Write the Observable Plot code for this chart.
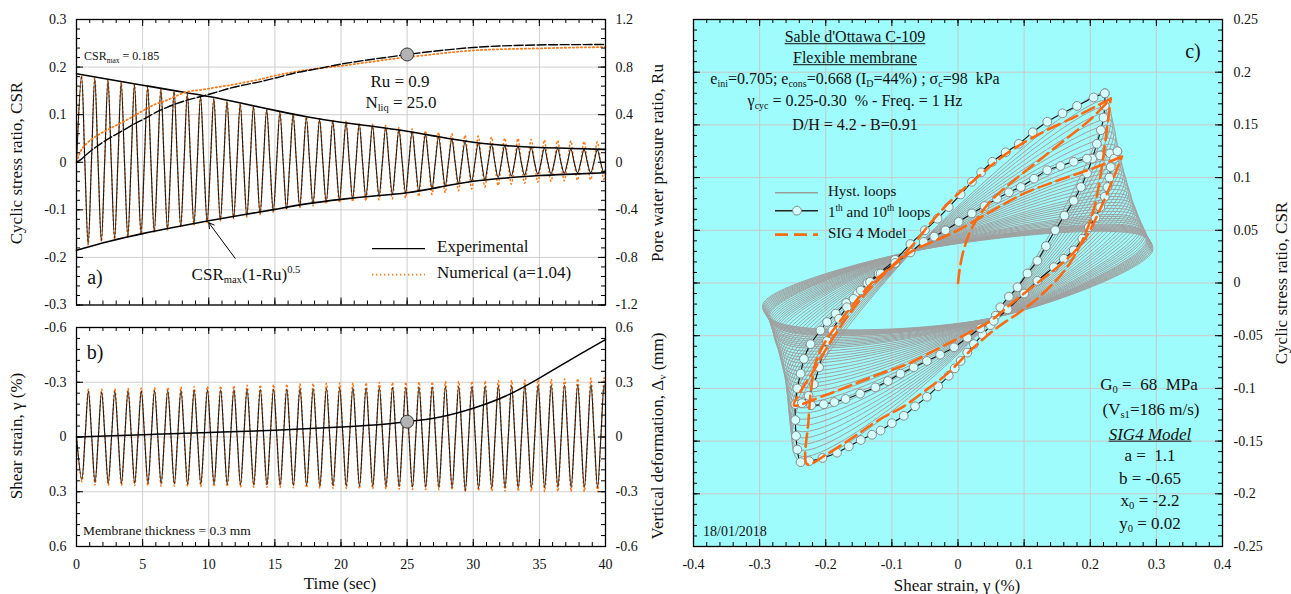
<!DOCTYPE html>
<html><head><meta charset="utf-8">
<script src="https://cdn.jsdelivr.net/npm/d3@7"></script>
<script src="https://cdn.jsdelivr.net/npm/@observablehq/plot@0.6"></script>
<style>
body{margin:0;background:#fff;}
#wrap{position:relative;width:1291px;height:594px;overflow:hidden;font-family:"Liberation Serif","Times New Roman",serif;color:#111;}
#wrap svg{position:absolute;}
sub{font-size:62%;vertical-align:-0.3em;line-height:0}
sup{font-size:62%;vertical-align:0.6em;line-height:0}
</style></head><body><div id="wrap"></div>
<script>
// ================= DATA =================
// ---- Panel a : cyclic stress ratio vs time (1 Hz loading, 40 cycles) ----
const csrPhase = {pos: 0.38, zeroDown: 0.63, neg: 0.88, zeroUp: 1.13};
const csrExpPos = [0.180,0.176,0.172,0.167,0.163,0.158,0.153,0.148,0.143,0.138,0.133,0.127,0.122,0.116,0.110,0.104,0.099,0.093,0.089,0.086,0.083,0.080,0.076,0.072,0.068,0.064,0.058,0.053,0.048,0.043,0.040,0.037,0.035,0.033,0.031,0.030,0.029,0.028,0.027,0.026];
const csrExpNeg = [-0.172,-0.165,-0.160,-0.155,-0.150,-0.145,-0.140,-0.135,-0.130,-0.125,-0.121,-0.117,-0.113,-0.108,-0.103,-0.098,-0.093,-0.088,-0.083,-0.079,-0.076,-0.073,-0.070,-0.067,-0.064,-0.060,-0.055,-0.050,-0.045,-0.040,-0.036,-0.032,-0.029,-0.027,-0.025,-0.024,-0.023,-0.022,-0.022,-0.021];
const csrNumPos = [0.182,0.177,0.173,0.168,0.164,0.159,0.154,0.149,0.144,0.139,0.134,0.128,0.123,0.117,0.111,0.106,0.101,0.096,0.092,0.089,0.086,0.083,0.080,0.077,0.073,0.070,0.066,0.063,0.060,0.057,0.055,0.053,0.051,0.050,0.048,0.047,0.046,0.045,0.044,0.043];
const csrNumNeg = [-0.174,-0.167,-0.162,-0.157,-0.152,-0.147,-0.142,-0.137,-0.132,-0.127,-0.123,-0.119,-0.115,-0.110,-0.105,-0.100,-0.096,-0.092,-0.088,-0.085,-0.083,-0.081,-0.079,-0.077,-0.075,-0.072,-0.068,-0.064,-0.060,-0.056,-0.052,-0.049,-0.046,-0.044,-0.042,-0.040,-0.039,-0.038,-0.037,-0.036];
const envT     = [0,2.5,5,7.5,10,12.5,15,17.5,20,22.5,25,27.5,30,32.5,35,37.5,40];
const envUpper = [0.186,0.174,0.162,0.150,0.138,0.124,0.109,0.095,0.084,0.075,0.065,0.053,0.042,0.035,0.031,0.029,0.027];
const envLower = [-0.185,-0.166,-0.150,-0.136,-0.123,-0.111,-0.099,-0.087,-0.078,-0.071,-0.064,-0.052,-0.040,-0.033,-0.028,-0.025,-0.022];
const ruT   = [0,0.3,0.8,1.5,2.3,3,3.8,4.5,5.3,6,6.8,7.5,8.3,9.5,10.6,11.7,12.9,14,15.1,16.5,18.4,20,22,24,25,26,28,30,32,34,36,38,40];
const ruExp = [0.0,0.02,0.07,0.13,0.19,0.235,0.285,0.33,0.375,0.42,0.46,0.49,0.52,0.555,0.59,0.625,0.655,0.68,0.71,0.75,0.79,0.825,0.86,0.89,0.906,0.92,0.945,0.965,0.977,0.984,0.988,0.989,0.99];
const ruNum = [0.0,0.09,0.16,0.22,0.27,0.31,0.355,0.40,0.45,0.49,0.52,0.555,0.59,0.61,0.63,0.65,0.675,0.70,0.73,0.76,0.79,0.81,0.84,0.87,0.885,0.895,0.92,0.94,0.95,0.955,0.96,0.965,0.968];
const ruPerCsr = 4;                       // right axis: 1.2 Ru  <->  0.3 CSR
const liqMarker = [{t: 25, ru: 0.906}];
const arrowAnnot = [{t1: 12.0, v1: -0.202, t2: 10.0, v2: -0.127}];

// ---- Panel b : shear strain and vertical deformation vs time ----
const strPhase = {pos: 0.40, zeroDown: 0.65, neg: 0.90, zeroUp: 1.15};
const strExpPos = [0.232,0.250,0.252,0.253,0.254,0.255,0.256,0.257,0.258,0.258,0.259,0.260,0.261,0.262,0.263,0.264,0.265,0.266,0.267,0.268,0.269,0.270,0.271,0.272,0.273,0.274,0.275,0.276,0.278,0.295,0.282,0.280,0.279,0.279,0.278,0.278,0.277,0.277,0.276,0.276];
const strExpNeg = [-0.250,-0.248,-0.250,-0.252,-0.253,-0.254,-0.255,-0.256,-0.257,-0.258,-0.259,-0.260,-0.261,-0.262,-0.263,-0.264,-0.265,-0.266,-0.267,-0.268,-0.269,-0.270,-0.271,-0.272,-0.273,-0.274,-0.275,-0.276,-0.277,-0.278,-0.279,-0.280,-0.281,-0.282,-0.283,-0.284,-0.285,-0.286,-0.287,-0.288];
const strNumPos = [0.245,0.262,0.264,0.265,0.266,0.267,0.268,0.269,0.270,0.271,0.272,0.273,0.274,0.275,0.276,0.277,0.278,0.279,0.280,0.281,0.282,0.283,0.284,0.285,0.286,0.287,0.288,0.289,0.290,0.300,0.295,0.296,0.297,0.298,0.298,0.299,0.299,0.300,0.300,0.300];
const strNumNeg = [-0.262,-0.262,-0.264,-0.266,-0.268,-0.270,-0.272,-0.274,-0.276,-0.278,-0.280,-0.282,-0.284,-0.286,-0.288,-0.290,-0.292,-0.294,-0.295,-0.296,-0.297,-0.298,-0.299,-0.300,-0.301,-0.302,-0.303,-0.304,-0.305,-0.306,-0.307,-0.308,-0.310,-0.312,-0.314,-0.316,-0.318,-0.320,-0.322,-0.325];
const dvT = [0,5,10,15,20,22.5,25,27.5,30,32.5,35,37.5,40];
const dvMm = [0,0.012,0.025,0.037,0.055,0.066,0.084,0.11,0.158,0.226,0.323,0.43,0.534];
const dvMarker = [{t: 25, dv: 0.084}];

// ---- Panel c : hysteresis loops (shear strain %, CSR), one entry per cycle ----
// right end of each loop: top (max CSR) and rightmost (max strain) points
const rTopG = [0.221,0.223,0.225,0.227,0.229,0.231,0.232,0.234,0.236,0.238,0.239,0.241,0.243,0.245,0.246,0.248,0.250,0.252,0.253,0.255,0.257,0.259,0.260,0.262,0.264,0.266,0.267,0.269,0.270,0.272,0.273,0.274,0.275,0.276,0.277,0.278,0.279,0.280,0.281,0.282];
const rTopC = [0.180,0.173,0.167,0.161,0.155,0.149,0.143,0.137,0.131,0.126,0.121,0.116,0.111,0.107,0.103,0.099,0.095,0.091,0.087,0.083,0.080,0.077,0.074,0.071,0.068,0.065,0.062,0.060,0.058,0.056,0.054,0.052,0.051,0.050,0.049,0.048,0.047,0.046,0.045,0.044];
const rMaxG = [0.225,0.228,0.231,0.233,0.235,0.237,0.239,0.241,0.243,0.245,0.247,0.249,0.251,0.253,0.255,0.257,0.259,0.261,0.263,0.265,0.267,0.269,0.271,0.273,0.275,0.277,0.279,0.281,0.282,0.284,0.285,0.286,0.287,0.288,0.289,0.290,0.291,0.292,0.293,0.294];
const rMaxC = [0.165,0.157,0.150,0.144,0.138,0.131,0.125,0.119,0.113,0.108,0.103,0.098,0.093,0.089,0.085,0.081,0.077,0.073,0.069,0.066,0.063,0.060,0.057,0.054,0.051,0.049,0.047,0.045,0.043,0.041,0.039,0.038,0.037,0.036,0.035,0.034,0.033,0.032,0.031,0.030];
// left end of each loop: leftmost (min strain) and bottom (min CSR) points
const lMinG = [-0.246,-0.247,-0.248,-0.249,-0.250,-0.251,-0.252,-0.253,-0.254,-0.255,-0.256,-0.257,-0.259,-0.261,-0.263,-0.265,-0.267,-0.269,-0.271,-0.273,-0.275,-0.277,-0.278,-0.279,-0.280,-0.281,-0.282,-0.283,-0.284,-0.285,-0.286,-0.287,-0.288,-0.289,-0.290,-0.291,-0.292,-0.293,-0.294,-0.295];
const lMinC = [-0.125,-0.120,-0.115,-0.110,-0.105,-0.100,-0.096,-0.092,-0.088,-0.084,-0.080,-0.076,-0.072,-0.068,-0.065,-0.062,-0.059,-0.056,-0.053,-0.050,-0.048,-0.046,-0.044,-0.042,-0.040,-0.038,-0.036,-0.034,-0.032,-0.030,-0.029,-0.028,-0.027,-0.026,-0.025,-0.024,-0.023,-0.022,-0.021,-0.020];
const lBotG = [-0.238,-0.239,-0.240,-0.241,-0.242,-0.243,-0.244,-0.245,-0.246,-0.247,-0.248,-0.249,-0.250,-0.251,-0.252,-0.253,-0.254,-0.255,-0.256,-0.257,-0.258,-0.259,-0.260,-0.261,-0.262,-0.263,-0.264,-0.265,-0.266,-0.267,-0.268,-0.269,-0.270,-0.271,-0.272,-0.273,-0.274,-0.275,-0.276,-0.278];
const lBotC = [-0.170,-0.164,-0.158,-0.152,-0.146,-0.140,-0.134,-0.128,-0.122,-0.117,-0.112,-0.107,-0.102,-0.097,-0.093,-0.089,-0.085,-0.081,-0.077,-0.073,-0.070,-0.067,-0.064,-0.061,-0.058,-0.056,-0.054,-0.052,-0.050,-0.048,-0.046,-0.044,-0.043,-0.042,-0.041,-0.040,-0.039,-0.038,-0.037,-0.036];
const convUpper = {g: -0.069, csr: 0.030};   // where the unloading branches converge
const convLower = {g: 0.053, csr: -0.033};   // where the reloading branches converge

const loop1Pts = [[0.222,0.180],[0.205,0.176],[0.180,0.168],[0.158,0.161],[0.135,0.153],[0.113,0.143],[0.092,0.132],[0.072,0.124],[0.052,0.115],[0.035,0.105],[0.021,0.096],[0.004,0.084],[-0.014,0.072],[-0.031,0.061],[-0.050,0.050],[-0.072,0.037],[-0.095,0.022],[-0.120,0.009],[-0.137,0.000],[-0.152,-0.010],[-0.169,-0.019],[-0.185,-0.029],[-0.198,-0.037],[-0.208,-0.045],[-0.223,-0.058],[-0.233,-0.072],[-0.238,-0.086],[-0.243,-0.100],[-0.246,-0.115],[-0.246,-0.130],[-0.245,-0.145],[-0.243,-0.158],[-0.238,-0.170],
  [-0.225,-0.169],[-0.205,-0.166],[-0.183,-0.161],[-0.165,-0.155],[-0.147,-0.149],[-0.130,-0.144],[-0.117,-0.140],[-0.100,-0.133],[-0.082,-0.126],[-0.065,-0.117],[-0.047,-0.108],[-0.030,-0.098],[-0.014,-0.088],[-0.005,-0.081],[0.004,-0.074],[0.014,-0.066],[0.024,-0.058],[0.037,-0.049],[0.049,-0.040],[0.057,-0.031],[0.064,-0.023],[0.077,-0.013],[0.090,-0.004],[0.105,0.009],[0.120,0.021],[0.133,0.035],[0.147,0.050],[0.161,0.064],[0.175,0.078],[0.186,0.091],[0.195,0.104],[0.203,0.118],[0.210,0.132],[0.216,0.145],[0.220,0.157],[0.222,0.168],[0.222,0.180]];
const loop10Pts = [[0.241,0.125],[0.230,0.123],[0.215,0.121],[0.195,0.118],[0.175,0.115],[0.155,0.111],[0.135,0.107],[0.115,0.099],[0.095,0.091],[0.077,0.086],[0.059,0.080],[0.040,0.073],[0.021,0.066],[0.001,0.058],[-0.019,0.050],[-0.036,0.044],[-0.052,0.039],[-0.072,0.029],[-0.095,0.019],[-0.117,0.009],[-0.133,0.001],[-0.147,-0.007],[-0.158,-0.015],[-0.168,-0.023],[-0.180,-0.034],[-0.190,-0.045],[-0.198,-0.055],[-0.203,-0.064],[-0.210,-0.080],[-0.218,-0.096],[-0.226,-0.107],[-0.236,-0.114],
  [-0.222,-0.116],[-0.203,-0.115],[-0.187,-0.113],[-0.170,-0.110],[-0.148,-0.105],[-0.125,-0.099],[-0.106,-0.093],[-0.087,-0.086],[-0.067,-0.080],[-0.047,-0.074],[-0.027,-0.068],[-0.006,-0.061],[0.014,-0.052],[0.034,-0.043],[0.054,-0.036],[0.075,-0.025],[0.100,-0.010],[0.120,0.002],[0.145,0.015],[0.160,0.023],[0.175,0.031],[0.188,0.042],[0.198,0.053],[0.208,0.062],[0.215,0.072],[0.222,0.082],[0.226,0.091],[0.229,0.100],[0.231,0.110],[0.236,0.118],[0.241,0.125]];

const sig4Initial = [[0,0],[0.003,0.015],[0.008,0.030],[0.016,0.045],[0.030,0.062],[0.050,0.078],[0.080,0.095],[0.120,0.115],[0.160,0.135],[0.200,0.155],[0.231,0.175]];
const sig4LoopA = [[0.231,0.175],[0.185,0.160],[0.125,0.142],[0.074,0.123],[0.029,0.100],[-0.011,0.078],[-0.040,0.058],[-0.070,0.035],[-0.100,0.016],[-0.132,-0.001],[-0.173,-0.032],[-0.200,-0.055],[-0.215,-0.075],[-0.222,-0.100],[-0.226,-0.130],[-0.228,-0.172],
  [-0.200,-0.163],[-0.160,-0.147],[-0.120,-0.130],[-0.082,-0.117],[-0.045,-0.100],[-0.016,-0.086],[0.024,-0.061],[0.060,-0.042],[0.095,-0.027],[0.125,-0.012],[0.165,0.015],[0.190,0.043],[0.205,0.069],[0.215,0.100],[0.223,0.135],[0.231,0.175]];
const sig4LoopB = [[0.248,0.120],[0.205,0.109],[0.150,0.097],[0.100,0.085],[0.050,0.068],[0.000,0.050],[-0.035,0.040],[-0.070,0.030],[-0.100,0.015],[-0.130,-0.003],[-0.165,-0.030],[-0.195,-0.058],[-0.220,-0.085],[-0.240,-0.105],[-0.248,-0.116],
  [-0.203,-0.107],[-0.158,-0.096],[-0.117,-0.086],[-0.077,-0.077],[-0.026,-0.061],[0.014,-0.048],[0.049,-0.036],[0.080,-0.020],[0.120,0.000],[0.160,0.020],[0.190,0.040],[0.215,0.070],[0.232,0.095],[0.248,0.120]];

// ================= HELPERS =================
const ORANGE_DOT = "#ff7a1a", ORANGE_MODEL = "#ff6a10", CYAN = "#9ffcfc", GRID = "#cfcfcf";
const fmt = v => { const r = Math.round(v * 1000) / 1000; return r === 0 ? "0" : String(r); };
const range = (a, b, s) => { const n = Math.round((b - a) / s), o = []; for (let i = 0; i <= n; i++) o.push(a + i * s); return o; };
const baseStyle = {fontFamily: '"Liberation Serif","Times New Roman",serif', fontSize: "14px", background: "transparent", color: "#111", overflow: "visible"};

function oscillation(pos, neg, ph) {
  const pts = [{t: 0, v: 0}];
  pos.forEach((p, k) => {
    pts.push({t: k + ph.pos, v: p});
    pts.push({t: k + ph.zeroDown, v: 0});
    pts.push({t: k + ph.neg, v: neg[k]});
    pts.push({t: k + ph.zeroUp, v: 0});
  });
  return pts;
}
function edgeTicks({xMajor, xMinor, yMajor, yMinor, fw, fh}) {
  const M = 7, m = 4, st = {stroke: "#000", strokeWidth: 1};
  const out = [];
  for (const [vals, len] of [[xMajor, M], [xMinor, m]]) {
    out.push(Plot.tickX(vals, {x: d => d, insetTop: fh - len, ...st}));
    out.push(Plot.tickX(vals, {x: d => d, insetBottom: fh - len, ...st}));
  }
  for (const [vals, len] of [[yMajor, M], [yMinor, m]]) {
    out.push(Plot.tickY(vals, {y: d => d, insetRight: fw - len, ...st}));
    out.push(Plot.tickY(vals, {y: d => d, insetLeft: fw - len, ...st}));
  }
  return out;
}
const wrap = document.getElementById("wrap");
function place(svg, left, top) { svg.style.left = left + "px"; svg.style.top = top + "px"; wrap.appendChild(svg); }
function put(html, x, y, {size = 17, anchor = "middle", rotate = false, extra = ""} = {}) {
  const d = document.createElement("div");
  d.innerHTML = html;
  const tx = anchor === "middle" ? "-50%" : anchor === "end" ? "-100%" : "0";
  d.style.cssText = `position:absolute;left:${x}px;top:${y}px;font-size:${size}px;white-space:pre;line-height:1.1;transform:translate(${tx},-50%)${rotate ? " rotate(-90deg)" : ""};${extra}`;
  wrap.appendChild(d);
}

// ================= PANEL a =================
const timeMajor = range(0, 40, 5), timeMinor = range(0, 40, 1);
const csrTicksA = range(-0.3, 0.3, 0.1);
const plotA = Plot.plot({
  width: 680, height: 310, marginLeft: 76, marginRight: 75, marginTop: 19, marginBottom: 5.5,
  x: {domain: [0, 40], axis: null}, y: {domain: [-0.3, 0.3]},
  style: baseStyle,
  marks: [
    Plot.gridX({ticks: timeMajor, stroke: GRID, strokeOpacity: 1}),
    Plot.gridY({ticks: csrTicksA, stroke: GRID, strokeOpacity: 1}),
    Plot.line(oscillation(csrNumPos, csrNumNeg, csrPhase), {x: "t", y: "v", curve: "catmull-rom", stroke: ORANGE_DOT, strokeWidth: 1.5, strokeDasharray: "1.2,3.2", clip: true}),
    Plot.line(oscillation(csrExpPos, csrExpNeg, csrPhase), {x: "t", y: "v", curve: "catmull-rom", stroke: "#1a1a1a", strokeWidth: 1.1, clip: true}),
    Plot.line(envT.map((t, i) => ({t, v: envUpper[i]})), {x: "t", y: "v", curve: "natural", stroke: "#000", strokeWidth: 1.6}),
    Plot.line(envT.map((t, i) => ({t, v: envLower[i]})), {x: "t", y: "v", curve: "natural", stroke: "#000", strokeWidth: 1.6}),
    Plot.line(ruT.map((t, i) => ({t, v: ruNum[i] / ruPerCsr})), {x: "t", y: "v", curve: "monotone-x", stroke: ORANGE_DOT, strokeWidth: 1.8, strokeDasharray: "1.3,2.7"}),
    Plot.line(ruT.map((t, i) => ({t, v: ruExp[i] / ruPerCsr})), {x: "t", y: "v", curve: "monotone-x", stroke: "#000", strokeWidth: 1.4, strokeDasharray: "9,2.5"}),
    Plot.dot(liqMarker, {x: "t", y: d => d.ru / ruPerCsr, r: 6.5, fill: "#b3b3b3", stroke: "#333", strokeWidth: 1}),
    Plot.arrow(arrowAnnot, {x1: "t1", y1: "v1", x2: "t2", y2: "v2", stroke: "#000", strokeWidth: 1, headLength: 9}),
    ...edgeTicks({xMajor: timeMajor, xMinor: timeMinor, yMajor: csrTicksA, yMinor: range(-0.3, 0.3, 0.02), fw: 529, fh: 285.5}),
    Plot.frame({stroke: "#000", strokeWidth: 1.3}),
    Plot.axisY({anchor: "left", ticks: csrTicksA, tickSize: 0, tickPadding: 10, tickFormat: fmt, label: null}),
    Plot.axisY({anchor: "right", ticks: csrTicksA, tickSize: 0, tickPadding: 10, tickFormat: v => fmt(v * ruPerCsr), label: null})
  ]
});
place(plotA, 0, 0);

// ================= PANEL b =================
const strTicks = range(-0.6, 0.6, 0.3);
const plotB = Plot.plot({
  width: 680, height: 284, marginLeft: 76, marginRight: 75, marginTop: 17, marginBottom: 48,
  x: {domain: [0, 40]}, y: {domain: [-0.6, 0.6], reverse: true},
  style: baseStyle,
  marks: [
    Plot.gridX({ticks: timeMajor, stroke: GRID, strokeOpacity: 1}),
    Plot.gridY({ticks: strTicks, stroke: GRID, strokeOpacity: 1}),
    Plot.line(oscillation(strNumPos, strNumNeg, strPhase), {x: "t", y: "v", curve: "catmull-rom", stroke: ORANGE_DOT, strokeWidth: 1.5, strokeDasharray: "1.2,3.2", clip: true}),
    Plot.line(oscillation(strExpPos, strExpNeg, strPhase), {x: "t", y: "v", curve: "catmull-rom", stroke: "#1a1a1a", strokeWidth: 1.1, clip: true}),
    Plot.line(dvT.map((t, i) => ({t, v: -dvMm[i]})), {x: "t", y: "v", curve: "natural", stroke: "#000", strokeWidth: 1.5}),
    Plot.dot(dvMarker, {x: "t", y: d => -d.dv, r: 6.5, fill: "#b3b3b3", stroke: "#333", strokeWidth: 1}),
    ...edgeTicks({xMajor: timeMajor, xMinor: timeMinor, yMajor: strTicks, yMinor: range(-0.6, 0.6, 0.06), fw: 529, fh: 219}),
    Plot.frame({stroke: "#000", strokeWidth: 1.3}),
    Plot.axisY({anchor: "left", ticks: strTicks, tickSize: 0, tickPadding: 10, tickFormat: fmt, label: null}),
    Plot.axisY({anchor: "right", ticks: strTicks, tickSize: 0, tickPadding: 10, tickFormat: v => fmt(-v), label: null}),
    Plot.axisX({ticks: timeMajor, tickSize: 0, tickPadding: 13, tickFormat: fmt, label: null})
  ]
});
place(plotB, 0, 310);

// ================= PANEL c =================
// each loop: reloading branch through convLower to the right end, unloading branch through convUpper to the left end
const grayLoops = rTopG.flatMap((_, i) => [
  {loop: i, g: convLower.g, c: convLower.csr},
  {loop: i, g: rMaxG[i], c: rMaxC[i]},
  {loop: i, g: rTopG[i], c: rTopC[i]},
  {loop: i, g: convUpper.g, c: convUpper.csr},
  {loop: i, g: lMinG[i], c: lMinC[i]},
  {loop: i, g: lBotG[i], c: lBotC[i]}
]);
const expLoops = [...loop1Pts.map(p => ({loop: 1, g: p[0], c: p[1]})), ...loop10Pts.map(p => ({loop: 10, g: p[0], c: p[1]}))];
const sig4 = [...sig4Initial.map(p => ({s: "init", g: p[0], c: p[1]})), ...sig4LoopA.map(p => ({s: "A", g: p[0], c: p[1]})), ...sig4LoopB.map(p => ({s: "B", g: p[0], c: p[1]}))];
const gTicks = range(-0.4, 0.4, 0.1), cTicks = range(-0.25, 0.25, 0.05);
const plotC = Plot.plot({
  width: 631, height: 594, marginLeft: 33, marginRight: 69, marginTop: 19, marginBottom: 48,
  x: {domain: [-0.4, 0.4]}, y: {domain: [-0.25, 0.25]},
  style: baseStyle,
  marks: [
    Plot.frame({fill: CYAN, stroke: null}),
    Plot.gridX({ticks: gTicks, stroke: "#c9c9c9", strokeOpacity: 1}),
    Plot.gridY({ticks: cTicks, stroke: "#c9c9c9", strokeOpacity: 1}),
    Plot.line(grayLoops, {x: "g", y: "c", z: "loop", curve: "catmull-rom-closed", stroke: "#a0a0a0", strokeWidth: 1}),
    Plot.line(expLoops, {x: "g", y: "c", z: "loop", curve: "catmull-rom", stroke: "#111", strokeWidth: 1.1}),
    Plot.dot(expLoops, {x: "g", y: "c", r: 4.4, fill: "#d4ffff", stroke: "#8a8a8a", strokeWidth: 1}),
    Plot.line(sig4, {x: "g", y: "c", z: "s", curve: "catmull-rom", stroke: ORANGE_MODEL, strokeWidth: 2.6, strokeDasharray: "13,6"}),
    ...edgeTicks({xMajor: gTicks, xMinor: range(-0.4, 0.4, 0.02), yMajor: cTicks, yMinor: range(-0.25, 0.25, 0.01), fw: 529, fh: 527}),
    Plot.frame({stroke: "#000", strokeWidth: 1.3}),
    Plot.axisY({anchor: "right", ticks: cTicks, tickSize: 0, tickPadding: 11, tickFormat: fmt, label: null}),
    Plot.axisX({ticks: gTicks, tickSize: 0, tickPadding: 13, tickFormat: fmt, label: null})
  ]
});
place(plotC, 660, 0);

// ================= TEXT / LEGENDS =================
put("Cyclic stress ratio, CSR", 17, 163, {rotate: true});
put("Pore water pressure ratio, Ru", 658, 163, {rotate: true});
put("Shear strain, γ (%)", 17, 436, {rotate: true});
put("Vertical deformation, Δ<sub>v</sub> (mm)", 658, 436, {rotate: true});
put("Time (sec)", 340, 584);
put("Cyclic stress ratio, CSR", 1282, 283, {rotate: true});
put("Shear strain, γ (%)", 957, 586);
put("CSR<sub>max</sub> = 0.185", 82, 57, {size: 12, anchor: "start", extra: "background:#fff;padding:1px 2px;"});
put("Ru = 0.9", 400, 82);
put("N<sub>liq</sub> = 25.0", 401, 103);
put("a)", 95, 277, {size: 20});
put("CSR<sub>max</sub>(1-Ru)<sup>0.5</sup>", 246, 275);
put('<svg width="54" height="6" style="position:static"><line x1="0" y1="3" x2="53" y2="3" stroke="#000" stroke-width="1.3"/></svg>', 372, 247, {anchor: "start"});
put("Experimental", 437, 247, {anchor: "start"});
put('<svg width="54" height="6" style="position:static"><line x1="0" y1="3" x2="53" y2="3" stroke="' + ORANGE_DOT + '" stroke-width="1.8" stroke-dasharray="1.3,2.7"/></svg>', 372, 273, {anchor: "start"});
put("Numerical (a=1.04)", 437, 273, {anchor: "start"});
put("b)", 95, 352, {size: 20});
put("Membrane thickness = 0.3 mm", 83, 531, {size: 13.5, anchor: "start"});
put("<u>Sable d'Ottawa C-109</u>", 855, 37, {size: 16});
put("<u>Flexible membrane</u>", 855, 58, {size: 16});
put("e<sub>ini</sub>=0.705; e<sub>cons</sub>=0.668 (I<sub>D</sub>=44%) ; σ<sub>c</sub>=98  kPa", 855, 79, {size: 16});
put("γ<sub>cyc</sub> = 0.25-0.30  % - Freq. = 1 Hz", 855, 101, {size: 16});
put("D/H = 4.2 - B=0.91", 855, 125, {size: 16});
put("c)", 1193, 51, {size: 20});
put("G<sub>0</sub> =  68  MPa", 1149, 385);
put("(V<sub>s1</sub>=186 m/s)", 1151, 410);
put("<u><i>SIG4 Model</i></u>", 1150, 435);
put("a =  1.1", 1150, 456);
put("b = -0.65", 1150, 479);
put("x<sub>0</sub> = -2.2", 1150, 501);
put("y<sub>0</sub> = 0.02", 1150, 524);
put("18/01/2018", 703, 532, {size: 14, anchor: "start"});
put('<svg width="44" height="6" style="position:static"><line x1="0" y1="3" x2="43" y2="3" stroke="#9d9d9d" stroke-width="1.5"/></svg>', 775, 191, {anchor: "start"});
put("Hyst. loops", 828, 191, {size: 15, anchor: "start"});
put('<svg width="44" height="12" style="position:static"><line x1="0" y1="6" x2="43" y2="6" stroke="#222" stroke-width="1.5"/><circle cx="22" cy="6" r="4.4" fill="#d4ffff" stroke="#8a8a8a"/></svg>', 775, 212, {anchor: "start"});
put("1<sup>th</sup> and 10<sup>th</sup> loops", 828, 212, {size: 15, anchor: "start"});
put('<svg width="44" height="6" style="position:static"><line x1="0" y1="3" x2="43" y2="3" stroke="' + ORANGE_MODEL + '" stroke-width="2.6" stroke-dasharray="13,6"/></svg>', 775, 233, {anchor: "start"});
put("SIG 4 Model", 828, 233, {size: 15, anchor: "start"});
</script></body></html>
